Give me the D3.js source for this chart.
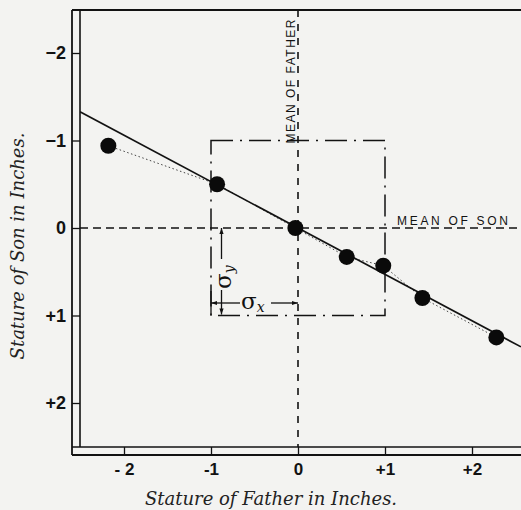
<!DOCTYPE html>
<html>
<head>
<meta charset="utf-8">
<script src="https://cdn.jsdelivr.net/npm/d3@7"></script>
<style>
  html, body { margin: 0; padding: 0; background: #f3f3f1; }
  svg { display: block; }
</style>
</head>
<body>
<script>
// Deviations from the mean, in inches (father on x, son on y)
const fatherDev = [-2.18, -0.93, -0.03, 0.56, 0.98, 1.43, 2.28];
const sonDev    = [-0.94, -0.50, 0.00, 0.33, 0.43, 0.80, 1.25];

// Axis ticks and their printed labels
const xTicks = [-2, -1, 0, 1, 2];
const xTickLabels = ["- 2", "-1", "0", "+1", "+2"];
const yTicks = [-2, -1, 0, 1, 2];
const yTickLabels = ["\u22122", "\u22121", "0", "+1", "+2"];

// Regression of son on father, and the one-sigma box
const regressionSlope = 0.53;
const sigmaBox = [-1, 1];

const W = 521, H = 510;
const ink = "#121212";
const plot = { left: 80, right: 521, top: 10, bottom: 447 };

const svg = d3.select("body").append("svg")
  .attr("width", W).attr("height", H);

svg.append("rect").attr("width", W).attr("height", H).attr("fill", "#f3f3f1");

const x = d3.scaleLinear().domain([-2, 2]).range([124, 472]);
const y = d3.scaleLinear().domain([-2, 2]).range([53, 403]);

const defs = svg.append("defs");
defs.append("clipPath").attr("id", "plotClip")
  .append("rect")
  .attr("x", plot.left).attr("y", plot.top)
  .attr("width", plot.right - plot.left).attr("height", plot.bottom - plot.top);
defs.append("marker")
  .attr("id", "arrow")
  .attr("viewBox", "0 0 10 10")
  .attr("refX", 10).attr("refY", 5)
  .attr("markerWidth", 7).attr("markerHeight", 6)
  .attr("markerUnits", "userSpaceOnUse")
  .attr("orient", "auto-start-reverse")
  .append("path").attr("d", "M0,1.5 L10,5 L0,8.5 Z").attr("fill", ink);

const g = svg.append("g").attr("clip-path", "url(#plotClip)");

// Mean lines
g.append("line")
  .attr("x1", plot.left).attr("x2", plot.right)
  .attr("y1", y(0)).attr("y2", y(0))
  .attr("stroke", ink).attr("stroke-width", 1.6)
  .attr("stroke-dasharray", "8,5");
g.append("line")
  .attr("x1", x(0)).attr("x2", x(0))
  .attr("y1", plot.top).attr("y2", plot.bottom)
  .attr("stroke", ink).attr("stroke-width", 1.6)
  .attr("stroke-dasharray", "7,7");

// One-sigma box (dash-dot)
g.append("rect")
  .attr("x", x(sigmaBox[0])).attr("y", y(sigmaBox[0]))
  .attr("width", x(sigmaBox[1]) - x(sigmaBox[0]))
  .attr("height", y(sigmaBox[1]) - y(sigmaBox[0]))
  .attr("fill", "none").attr("stroke", ink).attr("stroke-width", 1.5)
  .attr("stroke-dasharray", "22,7,2,7");

// Sigma annotations
const sxY = 303;             // level of the sigma-x arrow
const syX = x(-1) + 10.5;    // position of the sigma-y arrow
const ann = svg.append("g").attr("stroke", ink).attr("stroke-width", 1.3).attr("fill", "none");
ann.append("line").attr("x1", x(-1)).attr("x2", x(-1)).attr("y1", 291).attr("y2", y(1));
ann.append("line").attr("x1", x(-1)).attr("x2", 240).attr("y1", sxY).attr("y2", sxY)
  .attr("marker-start", "url(#arrow)");
ann.append("line").attr("x1", 271).attr("x2", x(0)).attr("y1", sxY).attr("y2", sxY)
  .attr("marker-end", "url(#arrow)");
ann.append("line").attr("x1", syX).attr("x2", syX).attr("y1", y(0)).attr("y2", 259)
  .attr("marker-start", "url(#arrow)");
ann.append("line").attr("x1", syX).attr("x2", syX).attr("y1", 290).attr("y2", y(1) - 1)
  .attr("marker-end", "url(#arrow)");

const sx = svg.append("text")
  .attr("x", 241).attr("y", 309)
  .attr("font-family", "DejaVu Serif").attr("fill", ink);
sx.append("tspan").attr("font-size", 23).text("\u03c3");
sx.append("tspan").attr("font-size", 14).attr("font-style", "italic").attr("dy", 3).text("x");

const sy = svg.append("text")
  .attr("transform", `translate(231,289) rotate(-90)`)
  .attr("font-family", "DejaVu Serif").attr("fill", ink);
sy.append("tspan").attr("font-size", 23).text("\u03c3");
sy.append("tspan").attr("font-size", 14).attr("font-style", "italic").attr("dy", 3).text("y");

// Mean labels
svg.append("text")
  .attr("transform", `translate(${x(0) - 3},${y(-1) + 3}) rotate(-90)`)
  .attr("font-family", "Liberation Sans, Arial, sans-serif")
  .attr("font-size", 12).attr("fill", ink)
  .attr("textLength", 124).attr("lengthAdjust", "spacing")
  .text("MEAN OF FATHER");
svg.append("text")
  .attr("x", 397).attr("y", y(0) - 3)
  .attr("font-family", "Liberation Sans, Arial, sans-serif")
  .attr("font-size", 12).attr("fill", ink)
  .attr("textLength", 111).attr("lengthAdjust", "spacing")
  .text("MEAN OF SON");

// Observed points joined by a dotted line
const pts = fatherDev.map((f, i) => [f, sonDev[i]]);
g.append("path")
  .attr("d", d3.line().x(d => x(d[0])).y(d => y(d[1]))(pts))
  .attr("fill", "none").attr("stroke", "#444").attr("stroke-width", 1)
  .attr("stroke-dasharray", "1.5,2.5");

// Regression line across the whole plot
const xr = [x.invert(plot.left), x.invert(plot.right)];
g.append("line")
  .attr("x1", x(xr[0])).attr("y1", y(regressionSlope * xr[0]))
  .attr("x2", x(xr[1])).attr("y2", y(regressionSlope * xr[1]))
  .attr("stroke", ink).attr("stroke-width", 1.7);

g.selectAll("circle.pt").data(pts).join("circle")
  .attr("class", "pt")
  .attr("cx", d => x(d[0])).attr("cy", d => y(d[1]))
  .attr("r", 8).attr("fill", "#0a0a0a");

// Frame: top rule, and the double-ruled axis strips
const frame = svg.append("g").attr("stroke", ink).attr("fill", "none");
frame.append("line").attr("x1", 72).attr("x2", W).attr("y1", plot.top).attr("y2", plot.top).attr("stroke-width", 2);
frame.append("line").attr("x1", 72).attr("x2", 72).attr("y1", plot.top).attr("y2", 455).attr("stroke-width", 1.8);
frame.append("line").attr("x1", plot.left).attr("x2", plot.left).attr("y1", plot.top).attr("y2", plot.bottom).attr("stroke-width", 1.6);
frame.append("line").attr("x1", 72).attr("x2", W).attr("y1", plot.bottom).attr("y2", plot.bottom).attr("stroke-width", 1.6);
frame.append("line").attr("x1", 72).attr("x2", W).attr("y1", 455).attr("y2", 455).attr("stroke-width", 1.8);

// Axes
const xAxis = svg.append("g")
  .attr("transform", `translate(0,${plot.bottom})`)
  .call(d3.axisBottom(x).tickValues(xTicks)
    .tickFormat((d, i) => xTickLabels[i]).tickSize(8).tickPadding(8));
xAxis.select(".domain").remove();
xAxis.selectAll(".tick line").attr("stroke", ink).attr("stroke-width", 1.3);
xAxis.selectAll(".tick text")
  .attr("font-family", "Liberation Sans, Arial, sans-serif")
  .attr("font-weight", "bold").attr("font-size", 17).attr("fill", ink);

const yAxis = svg.append("g")
  .attr("transform", `translate(${plot.left},0)`)
  .call(d3.axisLeft(y).tickValues(yTicks)
    .tickFormat((d, i) => yTickLabels[i]).tickSize(8).tickPadding(6));
yAxis.select(".domain").remove();
yAxis.selectAll(".tick line").attr("stroke", ink).attr("stroke-width", 1.3);
yAxis.selectAll(".tick text")
  .attr("font-family", "Liberation Sans, Arial, sans-serif")
  .attr("font-weight", "bold").attr("font-size", 18).attr("fill", ink);

// Axis titles
svg.append("text")
  .attr("x", 271).attr("y", 505)
  .attr("text-anchor", "middle")
  .attr("font-family", "DejaVu Serif").attr("font-style", "italic")
  .attr("font-size", 18).attr("fill", "#222")
  .text("Stature of Father in Inches.");
svg.append("text")
  .attr("transform", "translate(24,246) rotate(-90)")
  .attr("text-anchor", "middle")
  .attr("font-family", "DejaVu Serif").attr("font-style", "italic")
  .attr("font-size", 18).attr("fill", "#222")
  .text("Stature of Son in Inches.");
</script>
</body>
</html>
